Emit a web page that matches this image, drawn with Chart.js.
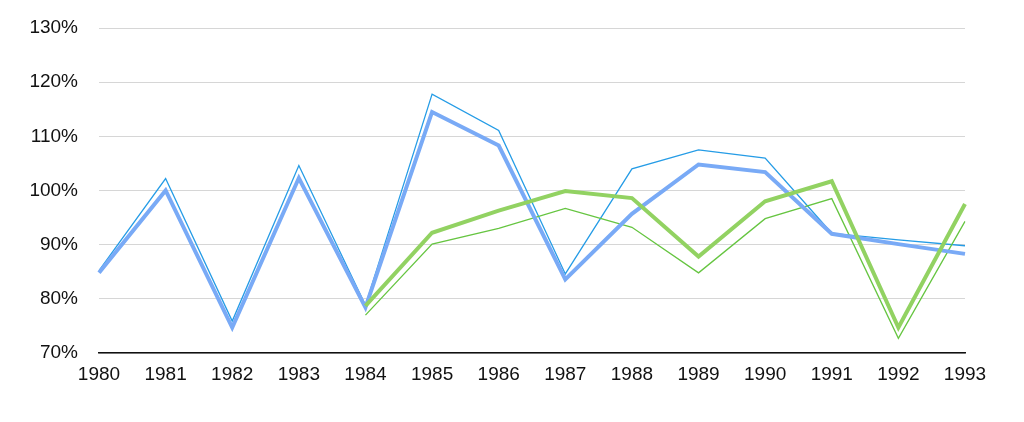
<!DOCTYPE html>
<html>
<head>
<meta charset="utf-8">
<script src="https://cdn.jsdelivr.net/npm/chart.js@4/dist/chart.umd.min.js"></script>
<style>
    html, body { margin: 0; padding: 0; background: #fff; }
    #wrap { width: 1024px; height: 422px; }
</style>
</head>
<body>
<div id="wrap"><canvas id="myChart" width="1024" height="422"></canvas></div>
<script>
const years = ['1980', '1981', '1982', '1983', '1984', '1985', '1986',
    '1987', '1988', '1989', '1990', '1991', '1992', '1993'];

const blueThick = [84.8, 100.0, 74.7, 102.3, 78.4, 114.5, 108.3, 83.6, 95.7, 104.8, 103.4, 92.0, 90.1, 88.3];
const blueThin = [85.2, 102.2, 75.9, 104.6, 78.8, 117.8, 111.1, 84.6, 104.0, 107.5, 106.0, 92.1, 90.9, 89.8];
const greenThick = [null, null, null, null, 78.7, 92.2, 96.3, 99.9, 98.6, 87.8, 98.0, 101.7, 74.7, 97.5];
const greenThin = [null, null, null, null, 77.0, 90.1, 93.0, 96.7, 93.2, 84.8, 94.8, 98.5, 72.7, 94.3];

const yTicks = [70, 80, 90, 100, 110, 120, 130];

const FONT = { family: '"Liberation Sans", Arial, sans-serif', size: 19 };

function line(data, color, width) {
    return {
        data: data,
        borderColor: color,
        borderWidth: width,
        pointRadius: 0,
        tension: 0,
        fill: false,
        spanGaps: false
    };
}

function drawChart() {
    const ctx = document.getElementById('myChart').getContext('2d');
    new Chart(ctx, {
        type: 'line',
        data: {
            labels: years,
            datasets: [
                line(greenThick, '#92d262', 4),
                line(blueThick, '#79aaf6', 4),
                line(greenThin, '#66c541', 1.3),
                line(blueThin, '#259ce6', 1.3)
            ]
        },
        options: {
            responsive: false,
            animation: false,
            layout: { padding: { left: 0, right: 59, top: 28, bottom: 0 } },
            scales: {
                x: {
                    offset: false,
                    grid: { display: false, drawTicks: false },
                    border: { display: true, color: '#111', width: 1.5 },
                    ticks: {
                        color: '#111',
                        font: FONT,
                        padding: 10,
                        maxRotation: 0,
                        autoSkip: false
                    },
                    afterFit: (s) => { s.height = 69; s.paddingTop = 0; s.paddingBottom = 0; }
                },
                y: {
                    min: 70,
                    max: 130,
                    afterBuildTicks: (s) => { s.ticks = yTicks.map(v => ({ value: v })); },
                    grid: { color: '#d6d6d6', lineWidth: 1, drawTicks: false },
                    border: { display: false },
                    ticks: {
                        color: '#111',
                        font: FONT,
                        padding: 21,
                        callback: (v) => v + '%'
                    },
                    afterFit: (s) => { s.width = 99; s.paddingTop = 0; s.paddingBottom = 0; }
                }
            },
            plugins: {
                legend: { display: false },
                tooltip: { enabled: false }
            }
        }
    });
}

drawChart();
</script>
</body>
</html>
